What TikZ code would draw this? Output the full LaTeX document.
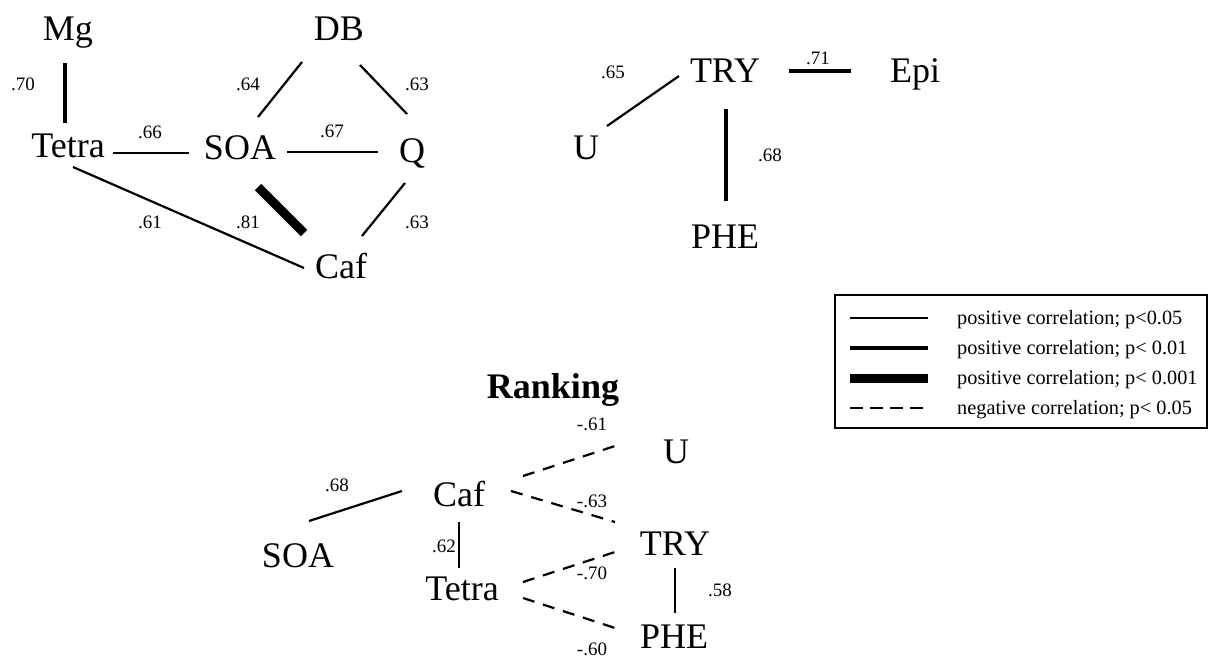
\documentclass[tikz,border=0pt]{standalone}
\usepackage{fontspec}
\setmainfont{Liberation Serif}

\tikzset{
  var/.style={font=\fontsize{36}{40}\selectfont, inner sep=0pt, text height=24pt, text depth=0pt},
  coef/.style={font=\fontsize{19}{22}\selectfont, inner sep=0pt, text height=12.8pt, text depth=0pt},
  legtext/.style={font=\fontsize{20.3}{23}\selectfont, inner sep=0pt, text height=13.5pt, text depth=0pt, anchor=west},
  sig05/.style={line width=2.2pt},
  sig01/.style={line width=4pt},
  sig001/.style={line width=9pt},
  neg05/.style={line width=2.2pt, dash pattern=on 12pt off 9pt}
}

\begin{document}
\begin{tikzpicture}[x=1pt, y=-1pt]

\useasboundingbox (0,0) rectangle (1208,659);

% --- Upper left cluster ---
\node[var] (mg)    at (68,28)   {Mg};
\node[var] (db)    at (339,28)  {DB};
\node[var] (tetra) at (68,145)  {Tetra};
\node[var] (soa)   at (240,147) {SOA};
\node[var] (q)     at (412,150) {Q};
\node[var] (caf)   at (341,266) {Caf};

\draw[sig01]  ([shift={(-3,35)}]mg.center)   -- ([shift={(-3,-22)}]tetra.center);
\draw[sig05]  ([shift={(-37,34)}]db.center)  -- ([shift={(18,-30)}]soa.center);
\draw[sig05]  ([shift={(21,37)}]db.center)   -- ([shift={(-5,-36)}]q.center);
\draw[sig05]  ([shift={(45,8)}]tetra.center) -- ([shift={(-51,6)}]soa.center);
\draw[sig05]  ([shift={(47,5)}]soa.center)   -- ([shift={(-34,2)}]q.center);
\draw[sig001] ([shift={(18,40)}]soa.center)  -- ([shift={(-37,-33)}]caf.center);
\draw[sig05]  ([shift={(-7,33)}]q.center)    -- ([shift={(21,-30)}]caf.center);
\draw[sig05]  ([shift={(5,22)}]tetra.center) -- ([shift={(-37,2)}]caf.center);

\node[coef] (c70)  at (23,84)   {.70};
\node[coef] (c64)  at (248,84)  {.64};
\node[coef] (c63a) at (417,84)  {.63};
\node[coef] (c66)  at (150,132) {.66};
\node[coef] (c67)  at (332,131) {.67};
\node[coef] (c61)  at (150,222) {.61};
\node[coef] (c81)  at (248,222) {.81};
\node[coef] (c63b) at (417,222) {.63};

% --- Upper right cluster ---
\node[var] (try) at (725,70)  {TRY};
\node[var] (epi) at (915,70)  {Epi};
\node[var] (u)   at (586,147) {U};
\node[var] (phe) at (725,236) {PHE};

\draw[sig05] ([shift={(21,-21)}]u.center) -- ([shift={(-46,6)}]try.center);
\draw[sig01] ([shift={(64,1)}]try.center) -- ([shift={(-64,1)}]epi.center);
\draw[sig01] ([shift={(1,39)}]try.center) -- ([shift={(1,-35)}]phe.center);

\node[coef] (c65) at (613,72)  {.65};
\node[coef] (c71) at (818,58)  {.71};
\node[coef] (c68) at (770,155) {.68};

% --- Legend ---
\draw[line width=2.5pt] (835,295) rectangle (1207,428);
\draw[sig05]  (850,318) -- (928,318);
\draw[sig01]  (850,348) -- (928,348);
\draw[sig001] (850,378) -- (928,378);
\draw[neg05, dash pattern=on 13pt off 7pt] (850,408) -- (923,408);
\node[legtext] (k05)  at (957,318) {positive correlation; p<0.05};
\node[legtext] (k01)  at (957,348) {positive correlation; p< 0.01};
\node[legtext] (k001) at (957,378) {positive correlation; p< 0.001};
\node[legtext] (kneg) at (957,408) {negative correlation; p< 0.05};

% --- Ranking ---
\node[var, font=\fontsize{36}{40}\selectfont\bfseries] (ranking) at (553,386) {Ranking};

\node[var] (ru)     at (676,451) {U};
\node[var] (rcaf)   at (459,494) {Caf};
\node[var] (rsoa)   at (298,555) {SOA};
\node[var] (rtry)   at (675,543) {TRY};
\node[var] (rtetra) at (462,588) {Tetra};
\node[var] (rphe)   at (674,636) {PHE};

\draw[sig05] ([shift={(11,-34)}]rsoa.center)  -- ([shift={(-57,-3)}]rcaf.center);
\draw[sig05] ([shift={(0,28)}]rcaf.center)    -- ([shift={(-3,-20)}]rtetra.center);
\draw[neg05] ([shift={(64,-18)}]rcaf.center)  -- ([shift={(-61,-5)}]ru.center);
\draw[neg05] ([shift={(52,-3)}]rcaf.center)   -- ([shift={(-60,-21)}]rtry.center);
\draw[neg05] ([shift={(61,-6)}]rtetra.center) -- ([shift={(-60,9)}]rtry.center);
\draw[neg05] ([shift={(61,10)}]rtetra.center) -- ([shift={(-59,-8)}]rphe.center);
\draw[sig05] ([shift={(0,25)}]rtry.center)    -- ([shift={(1,-23)}]rphe.center);

\node[coef] (r68)  at (337,485) {.68};
\node[coef] (r62)  at (444,546) {.62};
\node[coef] (rm61) at (592,424) {-.61};
\node[coef] (rm63) at (592,501) {-.63};
\node[coef] (rm70) at (592,573) {-.70};
\node[coef] (rm60) at (592,649) {-.60};
\node[coef] (r58)  at (720,590) {.58};

\end{tikzpicture}
\end{document}
